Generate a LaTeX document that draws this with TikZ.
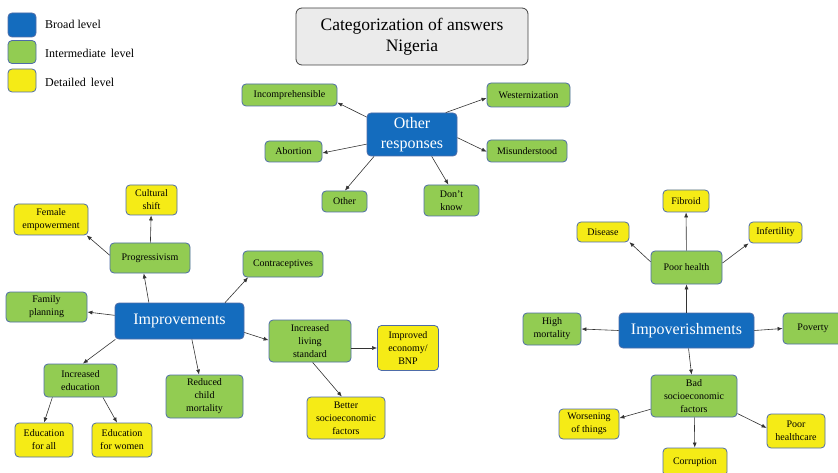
\documentclass[tikz,border=0pt]{standalone}
\usepackage{fontspec}
\setmainfont{Liberation Serif}
\usetikzlibrary{arrows.meta}

\definecolor{broadblue}{RGB}{20,108,190}
\definecolor{midgreen}{RGB}{146,204,82}
\definecolor{detailyellow}{RGB}{245,235,22}
\definecolor{boxline}{RGB}{78,108,168}

\begin{document}
\begin{tikzpicture}[
	x=1pt, y=-1pt,
	every node/.style = {align=center, inner sep=1pt, text=black},
	dims/.style 2 args = {minimum width=#1pt, minimum height=#2pt},
	any box/.style = {rectangle, rounded corners=4pt, draw=boxline, line width=0.8pt},
	broad node/.style = {any box, fill=broadblue, text=white, font=\fontsize{16}{20}\selectfont},
	mid node/.style = {any box, fill=midgreen, font=\fontsize{10}{13}\selectfont},
	detail node/.style = {any box, fill=detailyellow, font=\fontsize{10}{13}\selectfont},
	title node/.style = {rectangle, rounded corners=6pt, draw=black!75, line width=0.8pt, fill=black!8, font=\fontsize{17.5}{21}\selectfont},
	legend label/.style = {anchor=west, inner sep=0pt, font=\fontsize{12}{14}\selectfont},
	link/.style = {draw=black!80, line width=0.6pt, -{Latex[length=5pt,width=4pt]}}
]
\useasboundingbox (0,0) rectangle (838,473);

% legend
\node[broad node, dims={28}{24}] (key1) at (22,25) {};
\node[mid node, dims={28}{23}] (key2) at (22,52) {};
\node[detail node, dims={28}{23}] (key3) at (22,80.5) {};
\node[legend label] (key1 text) at (45,24) {Broad level};
\node[legend label] (key2 text) at (45,53) {Intermediate\, level};
\node[legend label] (key3 text) at (45,82) {Detailed\, level};

% title
\node[title node, dims={232}{57}] (title) at (412,36.5) {Categorization of answers\\Nigeria};

% other responses
\node[broad node, dims={90}{43}] (or) at (412,134.5) {Other\\responses};
\node[mid node, dims={95}{22}] (inc) at (289.5,95) {Incomprehensible};
\node[mid node, dims={83}{24}] (west) at (528.5,95) {Westernization};
\node[mid node, dims={57}{21}] (abort) at (293.5,151.5) {Abortion};
\node[mid node, dims={80}{22}] (mis) at (527,151) {Misunderstood};
\node[mid node, dims={45}{21}] (oth) at (344.5,201.5) {Other};
\node[mid node, dims={55}{31}] (dk) at (451.5,200.5) {Don't\\know};

\draw[link] (or.159) -- (inc.-9);
\draw[link] (or.33) -- (west.184);
\draw[link] (or.192) -- (abort.-3);
\draw[link] (or.-4) -- (mis.181);
\draw[link] (or.210) -- (oth.88);
\draw[link] (or.-48) -- (dk.101);

% improvements
\node[broad node, dims={129}{36}] (imp) at (179.5,321) {Improvements};
\node[detail node, dims={51}{30}] (cult) at (151.5,200) {Cultural\\shift};
\node[detail node, dims={74}{31}] (fem) at (51,219.5) {Female\\empowerment};
\node[mid node, dims={80}{30}] (prog) at (150,258) {Progressivism};
\node[mid node, dims={80}{26}] (contr) at (283,264) {Contraceptives};
\node[mid node, dims={81}{30}] (fam) at (46.5,307) {Family\\planning};
\node[mid node, dims={82}{42}] (ils) at (310,341) {Increased\\living\\standard};
\node[detail node, dims={61}{45}] (ieb) at (408,348) {Improved\\economy/\\BNP};
\node[mid node, dims={73}{33}] (ied) at (80.5,380.5) {Increased\\education};
\node[mid node, dims={77}{43}] (rcm) at (204.5,396.5) {Reduced\\child\\mortality};
\node[detail node, dims={78}{42}] (bsf) at (346,418) {Better\\socioeconomic\\factors};
\node[detail node, dims={58}{34}] (efa) at (44,440) {Education\\for all};
\node[detail node, dims={60}{34}] (efw) at (122,440) {Education\\for women};

\draw[link] (prog) -- (cult);
\draw[link] (prog.176) -- (fem.-24);
\draw[link] (imp.149) -- (prog.248);
\draw[link] (imp.22) -- (contr.201);
\draw[link] (imp.175) -- (fam.-7);
\draw[link] (imp.-10) -- (ils.179);
\draw[link] (ieb.west -| ils.east) -- (ieb.west);
\draw[link] (ils.-83) -- (bsf.101);
\draw[link] (imp.196) -- (ied.82);
\draw[link] (imp.-56) -- (rcm.104);
\draw[link] (ied.211) -- (efa.north);
\draw[link] (ied.-37) -- (efw.106);

% impoverishments
\node[broad node, dims={135}{35}] (ipv) at (686.5,330.5) {Impoverishments};
\node[detail node, dims={46}{22}] (fib) at (686,201) {Fibroid};
\node[detail node, dims={52}{20}] (dis) at (603,232) {Disease};
\node[detail node, dims={53}{21}] (inf) at (775.5,232.5) {Infertility};
\node[mid node, dims={71}{33}] (ph) at (686.5,267.5) {Poor health};
\node[mid node, dims={58}{32}] (hm) at (552,329) {High\\mortality};
\node[mid node, dims={60}{31}] (pov) at (813,328.5) {Poverty};
\node[mid node, dims={86}{42}] (bsf2) at (694,396) {Bad\\socioeconomic\\factors};
\node[detail node, dims={60}{30}] (wor) at (589,424) {Worsening\\of things};
\node[detail node, dims={58}{34}] (phc) at (796,431) {Poor\\healthcare};
\node[detail node, dims={64}{28}] (cor) at (695,462) {Corruption};

\draw[link] (ph) -- (fib);
\draw[link] (ph.171) -- (dis.-21);
\draw[link] (ph.7) -- (inf.202);
\draw[link] (ipv) -- (ph);
\draw[link] (ipv.west) -- (hm.east);
\draw[link] (ipv.east) -- (pov.west);
\draw[link] (ipv) -- (bsf2);
\draw[link] (bsf2.197) -- (wor.11);
\draw[link] (bsf2) -- (cor);
\draw[link] (bsf2.-22) -- (phc.174);

\end{tikzpicture}
\end{document}
